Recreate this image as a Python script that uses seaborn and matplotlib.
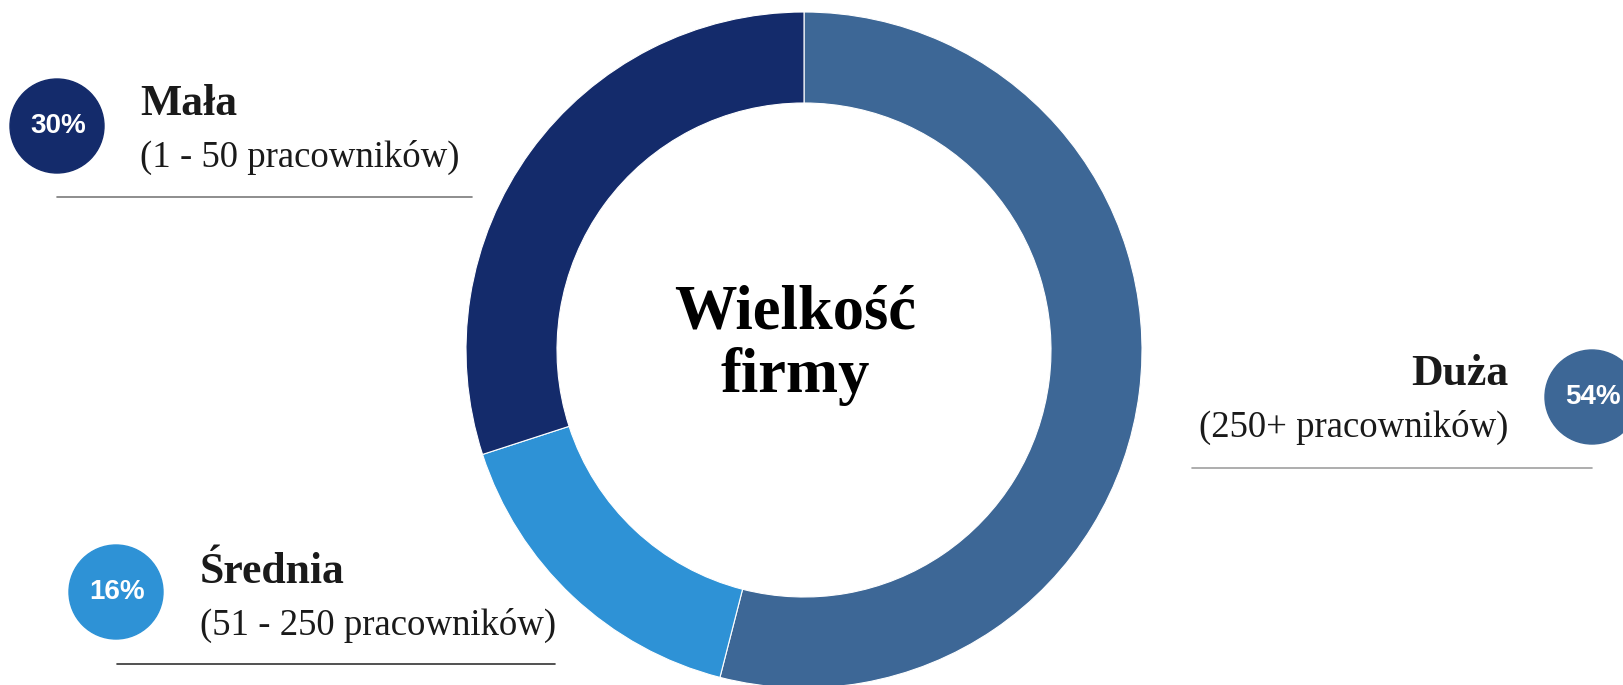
import matplotlib
matplotlib.use("Agg")
import matplotlib.pyplot as plt
from matplotlib.patches import Circle
import seaborn as sns

# Company size shares (clockwise from 12 o'clock)
segments = ["Duża", "Średnia", "Mała"]
shares = [54, 16, 30]
subtitles = ["(250+ pracowników)", "(51 - 250 pracowników)", "(1 - 50 pracowników)"]
colors = ["#3d6796", "#2e92d6", "#142b6b"]
center_lines = ["Wielkość", "firmy"]

sns.set_theme(style="white")
plt.rcParams["font.family"] = ["Liberation Serif", "DejaVu Serif"]

W, H = 1623, 685
fig = plt.figure(figsize=(W / 100, H / 100), dpi=100)
ax = fig.add_axes([0, 0, 1, 1])

# Donut ring
cx, cy, r_out, ring = 804, H - 350, 338, 91
ax.pie(shares, colors=colors, startangle=90, counterclock=False,
       radius=r_out, center=(cx, cy), frame=True,
       wedgeprops=dict(width=ring, linewidth=0.8, edgecolor="#ffffff"))
ax.set_xlim(0, W)
ax.set_ylim(0, H)
ax.set_aspect("equal")
ax.axis("off")

# Title in the hole
for line, base in zip(center_lines, [328, 392]):
    ax.text(795, H - base, line, ha="center", va="baseline",
            fontsize=45, fontweight="bold", color="#000000")

# Legend blocks: badge centre, text anchor, alignment, rule span and colour
blocks = {
    "Mała": dict(badge=(57, 126), tx=140, ty=115, ha="left",
                 rule=(57, 472, 197), rule_color="#7a7a7a"),
    "Średnia": dict(badge=(116, 592), tx=200, ty=583, ha="left",
                    rule=(117, 555, 664), rule_color="#333333"),
    "Duża": dict(badge=(1592, 397), tx=1508, ty=385, ha="right",
                 rule=(1192, 1592, 468), rule_color="#a0a0a0"),
}

for name, share, sub, col in zip(segments, shares, subtitles, colors):
    b = blocks[name]
    bx, by = b["badge"]
    ax.add_patch(Circle((bx, H - by), 47, color=col, zorder=3, clip_on=False))
    ax.text(bx + 1, H - by, f"{share}%", ha="center", va="center", color="white",
            fontsize=20, fontweight="bold", family=["Liberation Sans", "DejaVu Sans"],
            zorder=4)
    ax.text(b["tx"], H - b["ty"], name, ha=b["ha"], va="baseline",
            fontsize=31.5, fontweight="bold", color="#1a1a1a")
    ax.text(b["tx"], H - b["ty"] - 52, sub, ha=b["ha"], va="baseline",
            fontsize=26.5, color="#1a1a1a")
    x0, x1, ly = b["rule"]
    ax.plot([x0, x1], [H - ly, H - ly], color=b["rule_color"], linewidth=1.2)

fig.savefig("out.png", dpi=100)
